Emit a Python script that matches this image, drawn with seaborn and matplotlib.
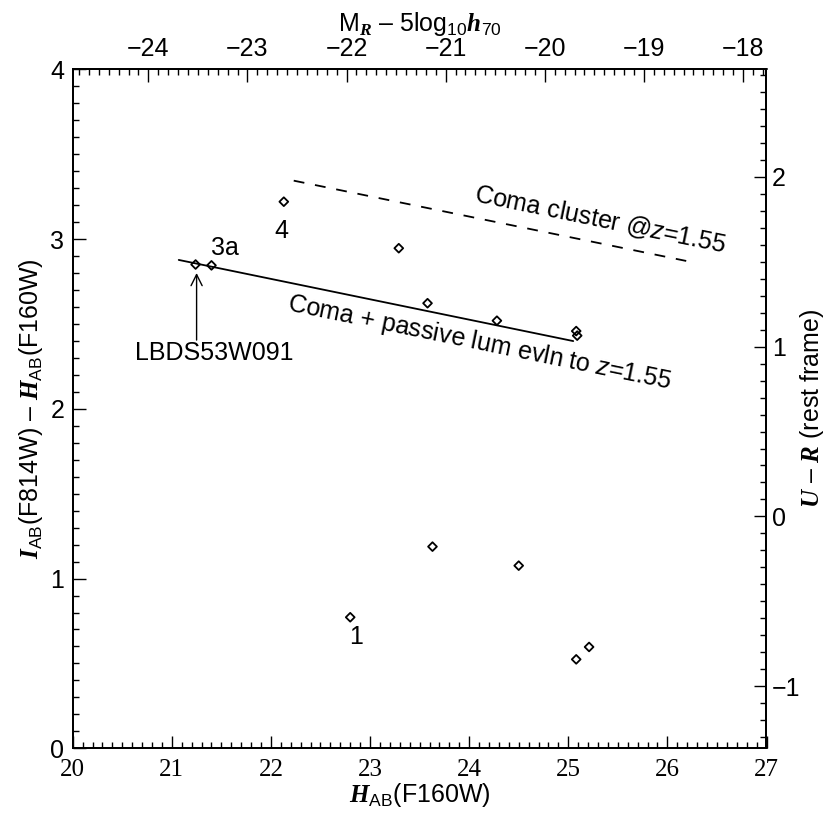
import numpy as np
import pandas as pd
import seaborn as sns
import matplotlib.pyplot as plt
from matplotlib.ticker import MultipleLocator

# galaxies: H_AB(F160W) and I_AB - H_AB colour
h_mag = [21.24, 21.40, 22.13, 23.29, 23.58, 24.28, 25.08, 25.09,
         22.80, 23.63, 24.50, 25.08, 25.21]
i_minus_h = [2.850, 2.845, 3.220, 2.946, 2.622, 2.519, 2.458, 2.431,
             0.772, 1.188, 1.076, 0.524, 0.597]

# colour-magnitude relations (end points)
coma_h = [22.23, 26.19]
coma_col = [3.344, 2.871]
passive_h = [21.07, 25.05]
passive_col = [2.877, 2.399]

# secondary axis conversions
M_OFFSET = 44.763    # M_R - 5log h70 = H - offset
UR_OFFSET = 1.366    # U - R = (I - H) - offset

sns.set_style("ticks")
plt.rcParams['font.family'] = ['Liberation Sans', 'DejaVu Sans']
plt.rcParams['font.serif'] = ['Liberation Serif', 'DejaVu Serif']
plt.rcParams['mathtext.fontset'] = 'custom'
plt.rcParams['mathtext.rm'] = 'Liberation Sans'
plt.rcParams['mathtext.it'] = 'Liberation Sans:italic'
plt.rcParams['mathtext.bf'] = 'Liberation Sans:bold'
plt.rcParams['mathtext.bfit'] = 'Liberation Serif:italic:bold'
for k in ['text.color', 'axes.labelcolor', 'xtick.color', 'ytick.color', 'axes.edgecolor']:
    plt.rcParams[k] = 'black'
plt.rcParams['axes.linewidth'] = 1.2

FS = 18

df = pd.DataFrame({"H": h_mag, "col": i_minus_h})

fig = plt.figure(figsize=(8.31, 8.19), dpi=100)
ax = fig.add_axes([72.7 / 831, 1 - 748.3 / 819, 693.8 / 831, 679.0 / 819])

sns.lineplot(x=coma_h, y=coma_col, ax=ax, color='black', lw=1.3,
             linestyle=(0, (6, 6)), sort=False)
sns.lineplot(x=passive_h, y=passive_col, ax=ax, color='black', lw=1.3,
             sort=False)
sns.scatterplot(data=df, x="H", y="col", ax=ax, marker='D', s=20,
                facecolor='none', edgecolor='black', linewidth=1.3, zorder=5)

ax.set_xlim(20, 27)
ax.set_ylim(0, 4)
ax.xaxis.set_major_locator(MultipleLocator(1))
ax.xaxis.set_minor_locator(MultipleLocator(0.1))
ax.yaxis.set_major_locator(MultipleLocator(1))
ax.yaxis.set_minor_locator(MultipleLocator(0.1))
ax.tick_params(which='both', direction='in', top=False, right=False, width=1.0)
ax.tick_params(which='major', length=9)
ax.tick_params(which='minor', length=4.5)
ax.tick_params(axis='x', labelsize=FS, pad=8, labelfontfamily='serif')
ax.tick_params(axis='y', labelsize=FS, pad=6)

ax.set_xlabel(r'$\mathbfit{H}_{\mathrm{AB}}$(F160W)', fontsize=FS, labelpad=0)
ax.set_ylabel(r'$\mathbfit{I}_{\mathrm{AB}}$(F814W) – $\mathbfit{H}_{\mathrm{AB}}$(F160W)',
              fontsize=FS, labelpad=4)

# top axis: absolute magnitude
top = ax.twiny()
top.set_xlim(20 - M_OFFSET, 27 - M_OFFSET)
top.xaxis.set_minor_locator(MultipleLocator(0.1))
top.tick_params(which='both', direction='in', width=1.0, labelsize=FS, pad=6)
top.tick_params(which='major', length=9)
top.tick_params(which='minor', length=4.5)
top.set_xticks(np.arange(-24, -17, 1))
top.set_xticklabels([f'−{abs(v)}' for v in range(-24, -17)])
top.set_xlabel(r'M$_{\mathbfit{R}}$ – 5log$_{10}$$\mathbfit{h}_{70}$',
               fontsize=FS, labelpad=4)

# right axis: rest-frame colour
right = ax.twinx()
right.set_ylim(0 - UR_OFFSET, 4 - UR_OFFSET)
right.set_yticks([-1, 0, 1, 2])
right.set_yticklabels(['−1', '0', '1', '2'])
right.yaxis.set_minor_locator(MultipleLocator(0.1))
right.tick_params(which='both', direction='in', width=1.0, labelsize=FS, pad=4)
right.tick_params(which='major', length=9)
right.tick_params(which='minor', length=4.5)
right.set_ylabel(r'$\mathbfit{U}$ – $\mathbfit{R}$ (rest frame)', fontsize=FS)
right.yaxis.set_label_coords(1.046, 0.5)

for a in (ax, top, right):
    for s in a.spines.values():
        s.set_linewidth(1.2)

# annotations
ax.text(21.54, 2.947, '3a', fontsize=FS, ha='center', va='center')
ax.text(22.11, 3.049, '4', fontsize=FS, ha='center', va='center')
ax.text(22.86, 0.656, '1', fontsize=FS, ha='center', va='center')
ax.annotate('', xy=(21.25, 2.80), xytext=(21.25, 2.405),
            arrowprops=dict(arrowstyle='->', lw=1.0, color='black',
                            mutation_scale=20, shrinkA=0, shrinkB=0))
ax.text(21.43, 2.33, 'LBDS53W091', fontsize=FS, ha='center', va='center')
ax.text(25.32, 3.112, r'Coma cluster @$z$=1.55', fontsize=FS, ha='center',
        va='center', rotation=-11.6, rotation_mode='anchor')
ax.text(24.10, 2.39, r'Coma + passive lum evln to $z$=1.55', fontsize=FS,
        ha='center', va='center', rotation=-11.6, rotation_mode='anchor')

for t in ax.get_xticklabels():
    t.set_fontfamily('serif')

fig.savefig('out.png', dpi=100)
